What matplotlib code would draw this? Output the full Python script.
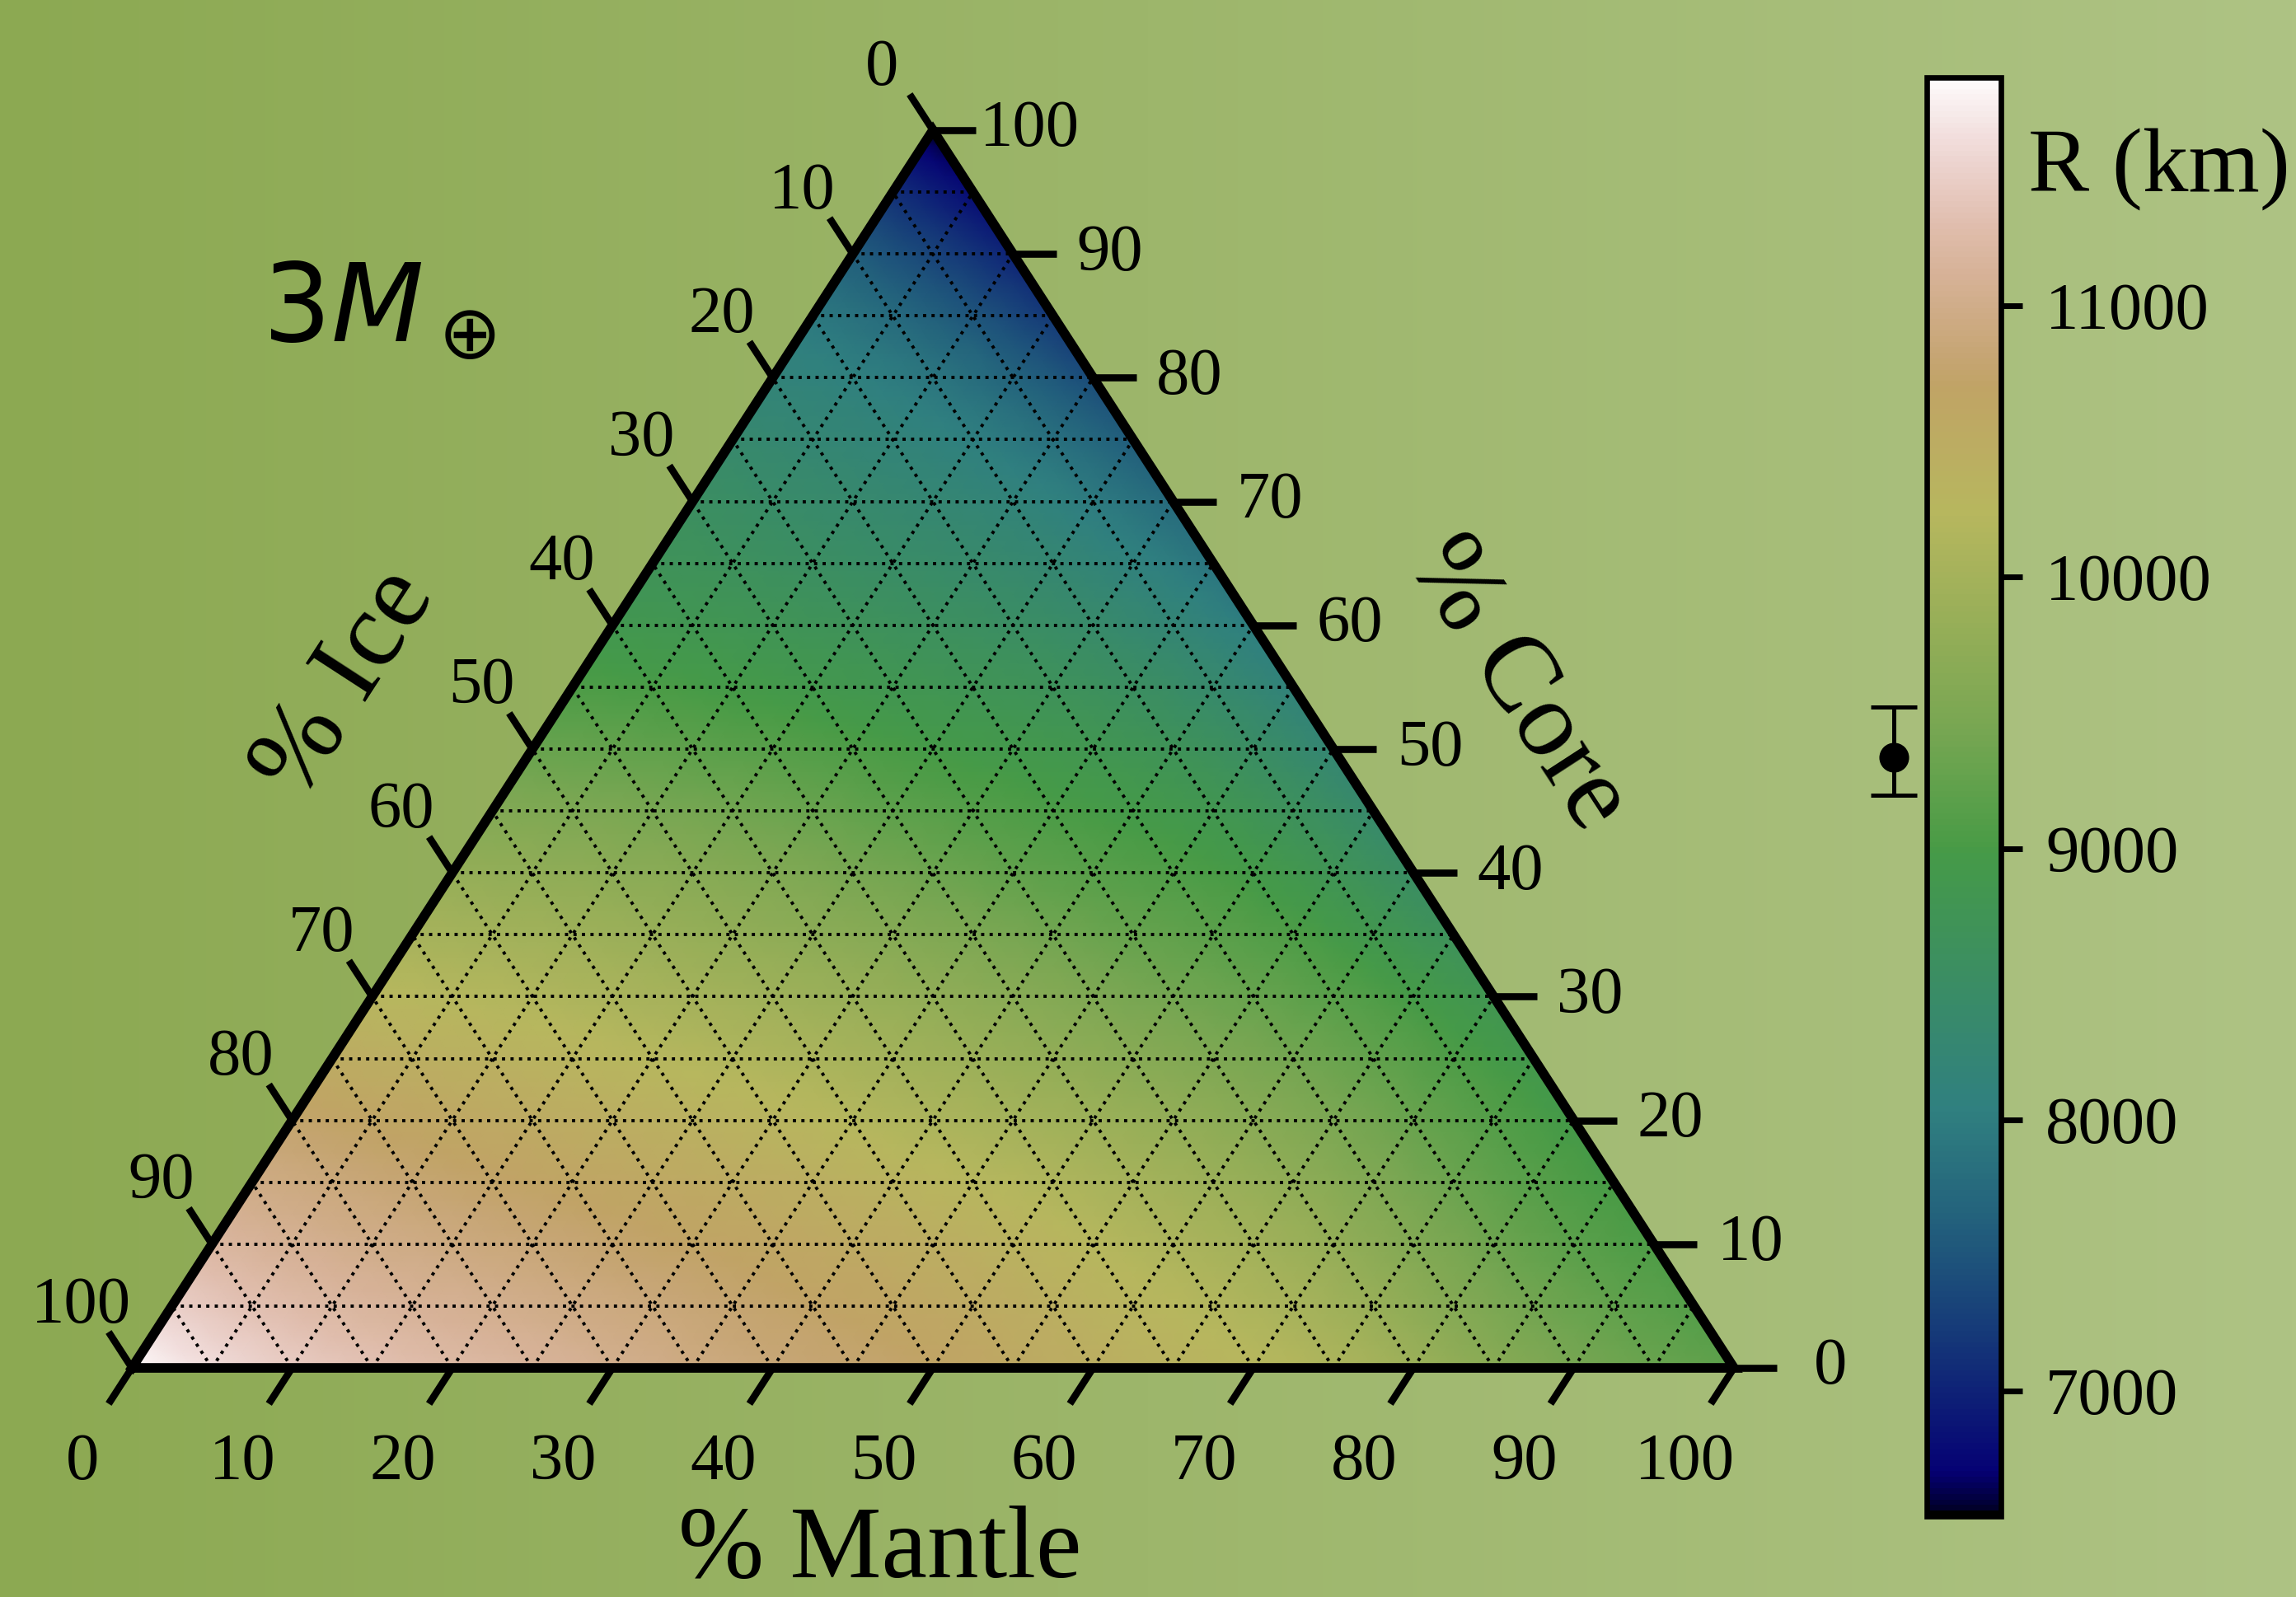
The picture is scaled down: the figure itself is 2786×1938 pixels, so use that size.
import numpy as np
import matplotlib
matplotlib.use("Agg")
import matplotlib.pyplot as plt
import matplotlib.tri as mtri
from matplotlib.colors import Normalize
from matplotlib.cm import ScalarMappable

plt.rcParams['font.family'] = ['Liberation Serif', 'DejaVu Serif']
plt.rcParams['mathtext.fontset'] = 'dejavusans'

# ---------------- data ----------------
# radius (km) at nodes; one list per core %, entries for mantle % = 0,10,...,100-core
core_levels = [0, 10, 20, 30, 40, 50, 60, 70, 80, 90, 100]
radius_core00 = [11830, 11450, 11250, 11050, 10850, 10700, 10450, 10250, 9900, 9450, 9200]
radius_core10 = [11200, 11000, 10850, 10700, 10550, 10350, 10100, 9800, 9350, 9050]
radius_core20 = [10750, 10600, 10450, 10300, 10100, 9900, 9650, 9300, 8950]
radius_core30 = [10250, 10150, 10000, 9850, 9650, 9400, 9150, 8800]
radius_core40 = [9800, 9700, 9550, 9350, 9150, 8950, 8500]
radius_core50 = [9300, 9200, 9050, 8900, 8700, 8250]
radius_core60 = [8850, 8750, 8600, 8400, 8000]
radius_core70 = [8550, 8350, 8150, 7750]
radius_core80 = [8150, 7900, 7400]
radius_core90 = [7600, 7000]
radius_core100 = [6560]
radius_rows = [radius_core00, radius_core10, radius_core20, radius_core30, radius_core40,
               radius_core50, radius_core60, radius_core70, radius_core80, radius_core90,
               radius_core100]

tick_values = list(range(0, 101, 10))
grid_values = list(range(5, 100, 5))
cbar_ticks = [7000, 8000, 9000, 10000, 11000]
R_MIN, R_MAX = 6540, 11840
obs_radius = 9335
obs_err_low = 140
obs_err_high = 185
mass_label = r"$3M_\oplus$"

# ---------------- figure ----------------
W, HP = 2786, 1938
DPI = 200
fig = plt.figure(figsize=(W / DPI, HP / DPI), dpi=DPI)

# background gradient
bg = fig.add_axes([0, 0, 1, 1], zorder=-10)
c_left = np.array([140, 169, 82]) / 255
c_right = np.array([174, 195, 132]) / 255
t = np.linspace(0, 1, 512)[None, :, None]
grad = c_left[None, None, :] * (1 - t) + c_right[None, None, :] * t
bg.imshow(grad, aspect='auto', extent=[0, 1, 0, 1])
bg.axis('off')

H = np.sqrt(3) / 2


def cart(mantle, core):
    m = np.asarray(mantle, float) / 100.0
    c = np.asarray(core, float) / 100.0
    return m + c / 2.0, c * H


ax = fig.add_axes([160 / W, (HP - 1660) / HP, 1944 / W, 1502 / HP])
ax.set_xlim(0, 1)
ax.set_ylim(0, H)
ax.axis('off')

# nodes
mx, cy, zz = [], [], []
for c, row in zip(core_levels, radius_rows):
    for j, r in enumerate(row):
        mx.append(j * 10)
        cy.append(c)
        zz.append(r)
px, py = cart(mx, cy)
tri = mtri.Triangulation(px, py)
refiner = mtri.UniformTriRefiner(tri)
tri_r, z_r = refiner.refine_field(np.array(zz, float), subdiv=3)
norm = Normalize(vmin=R_MIN, vmax=R_MAX)
cmap = plt.get_cmap('gist_earth')
ax.tripcolor(tri_r, z_r, cmap=cmap, norm=norm, shading='gouraud', zorder=1)

# grid lines (dotted)
glw = 1.4
for v in grid_values:
    x, y = cart([0, 100 - v], [v, v])
    ax.plot(x, y, ls=':', color='black', lw=glw, zorder=2)
    x, y = cart([v, v], [0, 100 - v])
    ax.plot(x, y, ls=':', color='black', lw=glw, zorder=2)
    x, y = cart([100 - v, 0], [0, 100 - v])
    ax.plot(x, y, ls=':', color='black', lw=glw, zorder=2)

# triangle outline
x, y = cart([0, 100, 0, 0], [0, 0, 100, 0])
ax.plot(x, y, color='black', lw=4.2, zorder=5, clip_on=False,
        solid_joinstyle='miter', solid_capstyle='projecting')

# ticks and labels
tlen_s = 2.9
tlen_c = 2.7
tick_lw = 3.1
fs_tick = 29
for v in tick_values:
    # mantle (bottom)
    x0, y0 = cart(v, 0)
    x1, y1 = cart(v, -tlen_s)
    ax.plot([x0, x1], [y0, y1], color='black', lw=tick_lw, zorder=5, clip_on=False,
            solid_capstyle='butt')
    ax.annotate(str(v), (x0, y0), xytext=(-60, -116), textcoords='offset pixels',
                ha='center', va='center', fontsize=fs_tick, annotation_clip=False)
    # ice (left)
    x0, y0 = cart(0, 100 - v)
    x1, y1 = cart(-tlen_s, 100 - v + tlen_s)
    ax.plot([x0, x1], [y0, y1], color='black', lw=tick_lw, zorder=5, clip_on=False,
            solid_capstyle='butt')
    ax.annotate(str(v), (x0, y0), xytext=(-62, 75), textcoords='offset pixels',
                ha='center', va='center', fontsize=fs_tick, annotation_clip=False)
    # core (right)
    x0, y0 = cart(100 - v, v)
    x1, y1 = cart(100 - v + tlen_c, v)
    ax.plot([x0, x1], [y0, y1], color='black', lw=tick_lw, zorder=5, clip_on=False,
            solid_capstyle='butt')
    ax.annotate(str(v), (x0, y0), xytext=(117, 0), textcoords='offset pixels',
                ha='center', va='center', fontsize=fs_tick, annotation_clip=False)

# axis titles
fs_lab = 47
fig.text(1068 / W, 1 - 1884 / HP, "% Mantle", ha='center', va='center', fontsize=45)
fig.text(420 / W, 1 - 830 / HP, "% Ice", ha='center', va='center', fontsize=fs_lab,
         rotation=57, rotation_mode='anchor')
fig.text(1841 / W, 1 - 830 / HP, "% Core", ha='center', va='center', fontsize=fs_lab,
         rotation=-57, rotation_mode='anchor')
fig.text(318 / W, 1 - 414 / HP, mass_label, ha='left', va='baseline', fontsize=47)

# colorbar
cax = fig.add_axes([2338 / W, (HP - 1840) / HP, 90 / W, (1840 - 94) / HP])
sm = ScalarMappable(norm=norm, cmap=cmap)
cb = fig.colorbar(sm, cax=cax, ticks=cbar_ticks)
cb.outline.set_linewidth(2.4)
cax.tick_params(length=9.5, width=2.5, labelsize=fs_tick, pad=10, color='black')
fig.text(2461 / W, 1 - 206 / HP, "R (km)", ha='left', va='center', fontsize=40)

# observed radius with error bar
eax = fig.add_axes([2248 / W, (HP - 1840) / HP, 100 / W, (1840 - 94) / HP])
eax.set_ylim(R_MIN, R_MAX)
eax.set_xlim(-1, 1)
eax.axis('off')
eax.errorbar([0], [obs_radius], yerr=[[obs_err_low], [obs_err_high]], fmt='o',
             color='black', ms=12, capsize=10, capthick=1.8, elinewidth=1.8)

fig.savefig('out.png', dpi=DPI)
